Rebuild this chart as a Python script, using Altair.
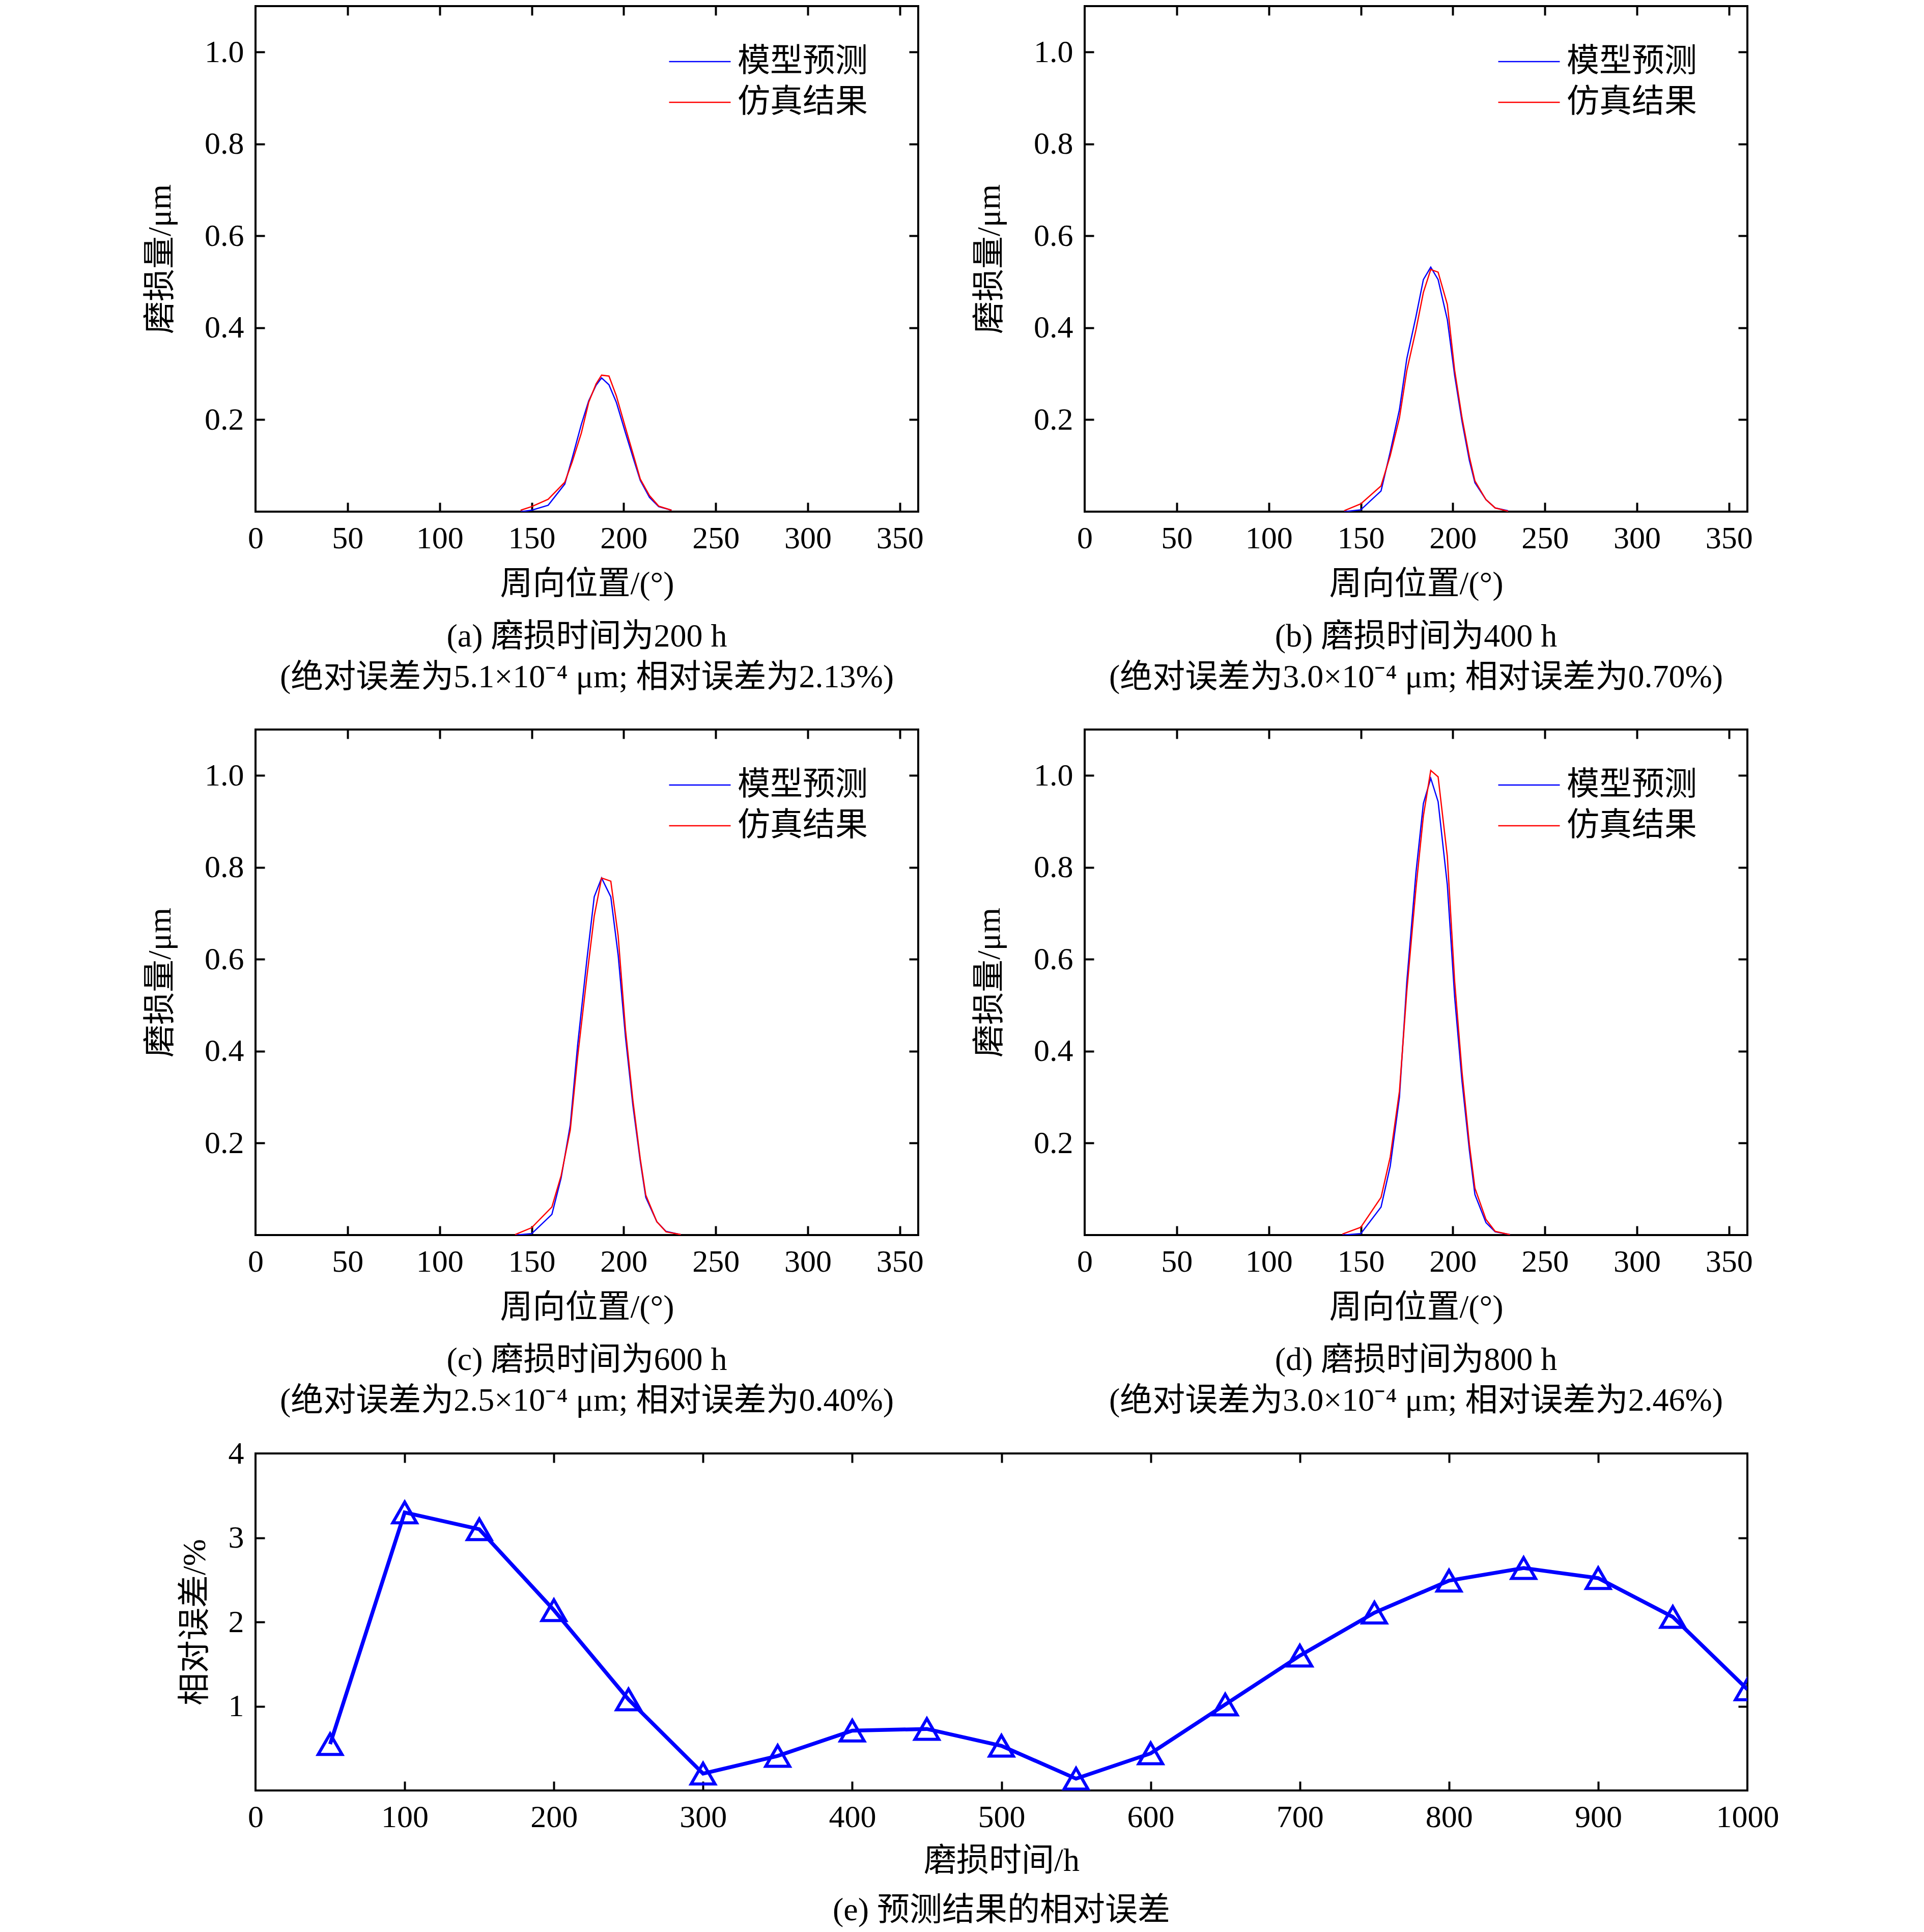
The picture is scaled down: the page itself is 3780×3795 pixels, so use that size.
import altair as alt
import pandas as pd

FONT = "Liberation Serif, Noto Sans CJK SC"
SERIES = ["模型预测", "仿真结果"]
COLORS = ["#0000ff", "#ff0000"]

# ---- panel (a): 200 h ----
ang_a = [144, 150, 159, 168, 172, 177, 181, 185, 188, 192, 196, 201, 205, 209, 214, 219, 226]
pred_a = [0.000, 0.003, 0.014, 0.060, 0.116, 0.190, 0.241, 0.275, 0.291, 0.276, 0.238, 0.171, 0.119, 0.068, 0.031, 0.011, 0.003]
sim_a = [0.003, 0.011, 0.027, 0.064, 0.108, 0.171, 0.238, 0.278, 0.297, 0.295, 0.252, 0.182, 0.127, 0.071, 0.035, 0.012, 0.003]

# ---- panel (b): 400 h ----
ang_b = [141, 150, 161, 166, 171, 175, 180, 184, 188, 192, 197, 201, 205, 209, 212, 218, 223, 230]
pred_b = [0.000, 0.004, 0.045, 0.130, 0.222, 0.333, 0.425, 0.505, 0.532, 0.505, 0.418, 0.296, 0.196, 0.111, 0.063, 0.026, 0.008, 0.002]
sim_b = [0.002, 0.017, 0.056, 0.122, 0.204, 0.307, 0.396, 0.477, 0.527, 0.521, 0.451, 0.307, 0.204, 0.119, 0.067, 0.026, 0.008, 0.001]

# ---- panel (c): 600 h ----
ang_c = [141, 150, 161, 166, 171, 175, 180, 184, 188, 193, 197, 201, 205, 209, 212, 218, 223, 231]
pred_c = [0.000, 0.003, 0.045, 0.124, 0.240, 0.414, 0.599, 0.736, 0.777, 0.736, 0.609, 0.430, 0.282, 0.161, 0.082, 0.029, 0.008, 0.001]
sim_c = [0.001, 0.016, 0.061, 0.129, 0.229, 0.388, 0.562, 0.694, 0.777, 0.770, 0.651, 0.446, 0.293, 0.166, 0.087, 0.029, 0.007, 0.001]

# ---- panel (d): 800 h ----
ang_d = [140, 150, 161, 166, 171, 175, 180, 184, 188, 192, 197, 201, 205, 209, 212, 218, 223, 231]
pred_d = [0.000, 0.003, 0.061, 0.150, 0.300, 0.551, 0.790, 0.939, 0.994, 0.943, 0.762, 0.517, 0.334, 0.184, 0.088, 0.027, 0.007, 0.001]
sim_d = [0.002, 0.017, 0.082, 0.170, 0.313, 0.531, 0.756, 0.912, 1.011, 0.997, 0.824, 0.551, 0.354, 0.197, 0.102, 0.034, 0.008, 0.001]

# ---- panel (e): relative error vs wear time ----
time_e = [50, 100, 150, 200, 250, 300, 350, 400, 450, 500, 550, 600, 650, 700, 750, 800, 850, 900, 950, 1000]
err_e = [0.55, 3.30, 3.10, 2.14, 1.08, 0.20, 0.41, 0.71, 0.73, 0.53, 0.14, 0.44, 1.02, 1.60, 2.11, 2.49, 2.64, 2.52, 2.06, 1.20]

X_TICKS = [0, 50, 100, 150, 200, 250, 300, 350]
Y_TICKS = [0.2, 0.4, 0.6, 0.8, 1.0]
XE_TICKS = [0, 100, 200, 300, 400, 500, 600, 700, 800, 900, 1000]
YE_TICKS = [1, 2, 3, 4]

cap_a = ["(a) 磨损时间为200 h", "(绝对误差为5.1×10⁻⁴ μm; 相对误差为2.13%)"]
cap_b = ["(b) 磨损时间为400 h", "(绝对误差为3.0×10⁻⁴ μm; 相对误差为0.70%)"]
cap_c = ["(c) 磨损时间为600 h", "(绝对误差为2.5×10⁻⁴ μm; 相对误差为0.40%)"]
cap_d = ["(d) 磨损时间为800 h", "(绝对误差为3.0×10⁻⁴ μm; 相对误差为2.46%)"]
cap_e = "(e) 预测结果的相对误差"

W, H = 1302, 993
WE, HE = 2931, 662


def tick_axis(orient, values, offset, **kw):
    return alt.Axis(orient=orient, offset=offset, values=values, labels=False,
                    domain=False, grid=False, ticks=True, tickSize=18, tickWidth=4,
                    tickColor="black", **kw)


def caption(text, offset):
    return alt.TitleParams(text, orient="bottom", anchor="middle", offset=offset,
                           fontSize=64, font=FONT, fontWeight="normal",
                           lineHeight=80, color="black")


def panel(ang, pred, sim, cap):
    n = len(ang)
    df = pd.DataFrame({"ang": ang + ang, "val": pred + sim,
                       "series": [SERIES[0]] * n + [SERIES[1]] * n})
    xs = alt.Scale(domain=[0, 360], nice=False, zero=False)
    ys = alt.Scale(domain=[0, 1.1], nice=False)
    base = alt.Chart(df)
    lines = base.mark_line(strokeWidth=2.5, clip=True).encode(
        x=alt.X("ang:Q", scale=xs, axis=alt.Axis(
            values=X_TICKS, format="d", title="周向位置/(°)", ticks=False, tickSize=0,
            labelPadding=22, labelFlush=False, labelOverlap=False,
            titleX=W / 2, titleY=142, titleBaseline="middle", titleAlign="center")),
        y=alt.Y("val:Q", scale=ys, axis=alt.Axis(
            values=Y_TICKS, format=".1f", title="磨损量/μm", ticks=False, tickSize=0,
            labelPadding=23, labelFlush=False, labelOverlap=False,
            titleX=-187, titleY=H / 2, titleAngle=270, titleBaseline="middle",
            titleAlign="center")),
        color=alt.Color("series:N", scale=alt.Scale(domain=SERIES, range=COLORS),
                        legend=alt.Legend(orient="none", legendX=811, legendY=69,
                                          title=None, symbolType="stroke",
                                          symbolSize=14641, symbolStrokeWidth=2.5,
                                          labelFontSize=64, labelFont=FONT,
                                          labelOffset=12, rowPadding=0, clipHeight=80,
                                          labelLimit=800, padding=0)),
    )
    t1 = base.mark_line(opacity=0).encode(
        x=alt.X("ang:Q", scale=xs, axis=tick_axis("top", X_TICKS[1:], -H, title=None)),
        y=alt.Y("val:Q", scale=ys, axis=tick_axis("right", Y_TICKS, -W, title=None)),
    )
    t2 = base.mark_line(opacity=0).encode(
        x=alt.X("ang:Q", scale=xs, axis=tick_axis("bottom", X_TICKS[1:], -H, title=None)),
        y=alt.Y("val:Q", scale=ys, axis=tick_axis("left", Y_TICKS, -W, title=None)),
    )
    return alt.layer(lines, t1, t2).resolve_axis(
        x="independent", y="independent").properties(width=W, height=H, title=caption(cap, 40))


pa = panel(ang_a, pred_a, sim_a, cap_a)
pb = panel(ang_b, pred_b, sim_b, cap_b)
pc = panel(ang_c, pred_c, sim_c, cap_c)
pdd = panel(ang_d, pred_d, sim_d, cap_d)

df_e = pd.DataFrame({"t": time_e, "err": err_e})
xse = alt.Scale(domain=[0, 1000], nice=False, zero=False)
yse = alt.Scale(domain=[0, 4], nice=False)
base_e = alt.Chart(df_e)
line_e = base_e.mark_line(
    color="#0000ff", strokeWidth=7.5, clip=True,
    point=alt.OverlayMarkDef(shape="triangle-up", filled=False, size=2200,
                             strokeWidth=6, color="#0000ff", clip=True),
).encode(
    x=alt.X("t:Q", scale=xse, axis=alt.Axis(
        values=XE_TICKS, format="d", title="磨损时间/h", ticks=False, tickSize=0,
        labelPadding=22, labelFlush=False, labelOverlap=False,
        titleX=WE / 2, titleY=138, titleBaseline="middle", titleAlign="center")),
    y=alt.Y("err:Q", scale=yse, axis=alt.Axis(
        values=YE_TICKS, format="d", title="相对误差/%", ticks=False, tickSize=0,
        labelPadding=23, labelFlush=False, labelOverlap=False,
        titleX=-119, titleY=HE / 2, titleAngle=270, titleBaseline="middle",
        titleAlign="center")),
)
te1 = base_e.mark_line(opacity=0).encode(
    x=alt.X("t:Q", scale=xse, axis=tick_axis("top", XE_TICKS[1:-1], -HE, title=None)),
    y=alt.Y("err:Q", scale=yse, axis=tick_axis(
        "right", YE_TICKS[:-1], -WE, title="相对误差/%", titleOpacity=0,
        titleX=-187, titleY=HE / 2, titleAngle=270, titleBaseline="middle",
        titleAlign="center")),
)
te2 = base_e.mark_line(opacity=0).encode(
    x=alt.X("t:Q", scale=xse, axis=tick_axis("bottom", XE_TICKS[1:-1], -HE, title=None)),
    y=alt.Y("err:Q", scale=yse, axis=tick_axis("left", YE_TICKS[:-1], -WE, title=None)),
)
pe = alt.layer(line_e, te1, te2).resolve_axis(
    x="independent", y="independent").properties(width=WE, height=HE, title=caption(cap_e, 34))

row1 = alt.hconcat(pa, pb, spacing=327, bounds="flush").resolve_scale(color="independent")
row2 = alt.hconcat(pc, pdd, spacing=327, bounds="flush").resolve_scale(color="independent")
top = alt.vconcat(row1, row2, spacing=64).resolve_scale(color="independent")

chart = alt.vconcat(top, pe, spacing=36).resolve_scale(
    color="independent"
).properties(
    padding={"left": 273, "top": 0, "right": 10, "bottom": 0},
    background="white",
).configure_view(
    stroke="black", strokeWidth=4
).configure_axis(
    labelFont=FONT, labelFontSize=62, labelColor="black",
    titleFont=FONT, titleFontSize=64, titleFontWeight="normal", titleColor="black",
    grid=False, domain=False,
).configure_title(
    font=FONT, fontSize=64, fontWeight="normal", color="black"
).configure_legend(
    labelFont=FONT, labelFontSize=64, labelColor="black"
)

chart.save("out.html", embed_options={"renderer": "svg", "actions": False})
